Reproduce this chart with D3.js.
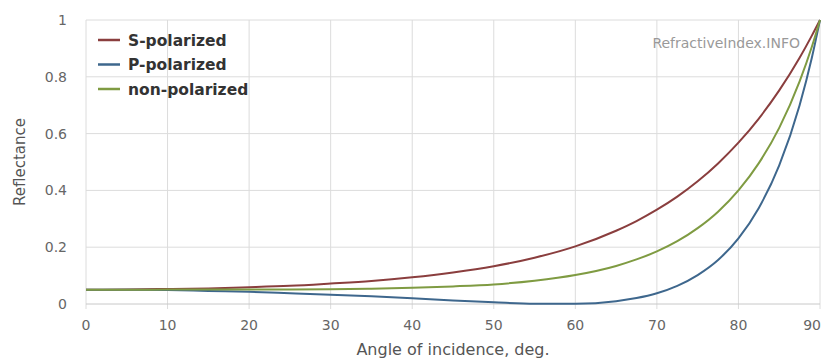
<!DOCTYPE html>
<html>
<head>
<meta charset="utf-8">
<script src="https://cdn.jsdelivr.net/npm/d3@7"></script>
<style>
  body { margin: 0; background: #fff; }
  svg { display: block; font-family: "DejaVu Sans", sans-serif; }
</style>
</head>
<body>
<div id="chart"></div>
<script>
// angle of incidence, deg
const angles = [0, 5, 10, 15, 20, 25, 30, 35, 40, 45, 50, 55, 60, 65, 67.5, 70, 72.5, 75, 77.5, 80, 82.5, 85, 87.5, 89, 90];
// reflectance
const sPolarized = [0.050, 0.051, 0.053, 0.055, 0.059, 0.064, 0.072, 0.081, 0.094, 0.111, 0.133, 0.163, 0.203, 0.258, 0.292, 0.332, 0.378, 0.432, 0.495, 0.568, 0.653, 0.752, 0.867, 0.945, 1];
const pPolarized = [0.050, 0.050, 0.049, 0.046, 0.043, 0.038, 0.033, 0.027, 0.020, 0.012, 0.006, 0.001, 0.001, 0.010, 0.021, 0.038, 0.064, 0.102, 0.155, 0.231, 0.338, 0.488, 0.700, 0.867, 1];
const nonPolarized = [0.050, 0.050, 0.051, 0.051, 0.051, 0.051, 0.052, 0.054, 0.057, 0.062, 0.069, 0.082, 0.102, 0.134, 0.157, 0.185, 0.221, 0.267, 0.325, 0.400, 0.496, 0.620, 0.784, 0.906, 1];

const seriesNames = ['S-polarized', 'P-polarized', 'non-polarized'];
const seriesValues = [sPolarized, pPolarized, nonPolarized];
const colors = ['#8a3e3e', '#3e678d', '#7f9b42'];

const xTicks = [0, 10, 20, 30, 40, 50, 60, 70, 80, 90];
const yTicks = [0, 0.2, 0.4, 0.6, 0.8, 1];

const width = 823, height = 361;
const margin = { top: 20, right: 3, bottom: 57, left: 86 };

const svg = d3.select('#chart').append('svg')
  .attr('width', width)
  .attr('height', height);

const x = d3.scaleLinear().domain([0, 90]).range([margin.left, width - margin.right]);
const y = d3.scaleLinear().domain([0, 1]).range([height - margin.bottom, margin.top]);

// grid
svg.append('g')
  .selectAll('line')
  .data(xTicks)
  .enter().append('line')
  .attr('x1', d => x(d)).attr('x2', d => x(d))
  .attr('y1', y(1)).attr('y2', y(0) + 5)
  .attr('stroke', '#dcdcdc');

svg.append('g')
  .selectAll('line')
  .data(yTicks)
  .enter().append('line')
  .attr('x1', x(0)).attr('x2', x(90))
  .attr('y1', d => y(d)).attr('y2', d => y(d))
  .attr('stroke', d => d === 0 ? '#c8c8c8' : '#dcdcdc');

// tick labels (last one kept inside the picture)
svg.append('g')
  .selectAll('text')
  .data(xTicks)
  .enter().append('text')
  .attr('x', d => d === 90 ? x(d) + 1 : x(d))
  .attr('y', y(0) + 26)
  .attr('text-anchor', d => d === 90 ? 'end' : 'middle')
  .attr('font-size', 14)
  .attr('fill', '#666')
  .text(d => d);

svg.append('g')
  .selectAll('text')
  .data(yTicks)
  .enter().append('text')
  .attr('x', 67)
  .attr('y', d => y(d) + 5)
  .attr('text-anchor', 'end')
  .attr('font-size', 14)
  .attr('fill', '#666')
  .text(d => d3.format('~g')(d));

// axis titles
svg.append('text')
  .attr('x', (x(0) + x(90)) / 2)
  .attr('y', 355)
  .attr('text-anchor', 'middle')
  .attr('font-size', 16)
  .attr('fill', '#555')
  .text('Angle of incidence, deg.');

svg.append('text')
  .attr('transform', `translate(25,${(y(0) + y(1)) / 2}) rotate(-90)`)
  .attr('text-anchor', 'middle')
  .attr('font-size', 15)
  .attr('fill', '#555')
  .text('Reflectance');

// watermark
svg.append('text')
  .attr('x', 800)
  .attr('y', 48)
  .attr('text-anchor', 'end')
  .attr('font-size', 14)
  .attr('fill', '#999')
  .text('RefractiveIndex.INFO');

// curves
const line = d3.line()
  .x(d => x(d[0]))
  .y(d => y(d[1]))
  .curve(d3.curveMonotoneX);

seriesValues.forEach((vals, i) => {
  svg.append('path')
    .datum(angles.map((a, j) => [a, vals[j]]))
    .attr('d', line)
    .attr('fill', 'none')
    .attr('stroke', colors[i])
    .attr('stroke-width', 2);
});

// legend
const legend = svg.append('g').attr('transform', 'translate(98,40)');
seriesNames.forEach((name, i) => {
  const g = legend.append('g').attr('transform', `translate(0,${i * 24.5})`);
  g.append('line')
    .attr('x1', 0).attr('x2', 22)
    .attr('y1', 0).attr('y2', 0)
    .attr('stroke', colors[i])
    .attr('stroke-width', 2.5);
  g.append('text')
    .attr('x', 30)
    .attr('y', 5.5)
    .attr('font-size', 15.5)
    .attr('font-weight', 'bold')
    .attr('fill', '#333')
    .text(name);
});
</script>
</body>
</html>
